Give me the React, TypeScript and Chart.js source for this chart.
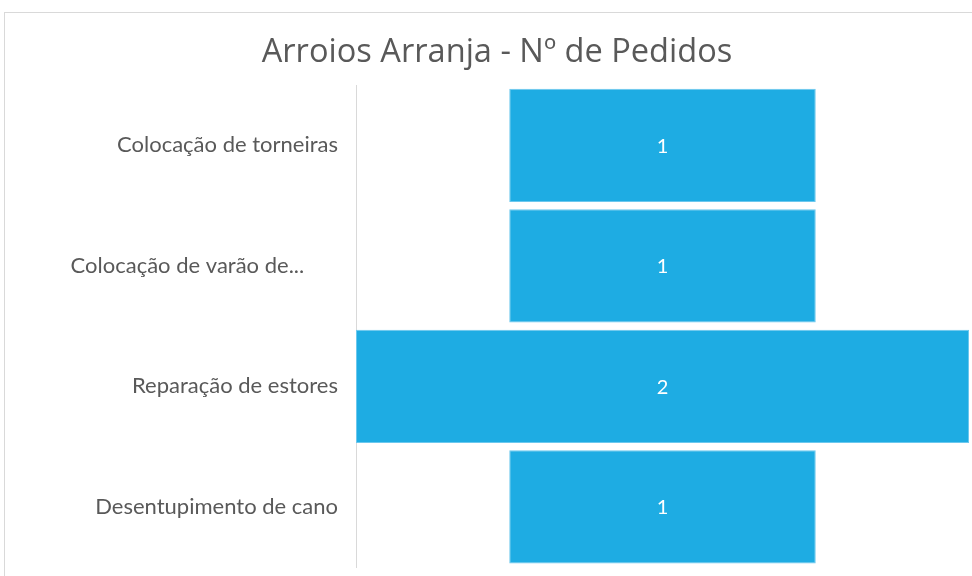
import React, { useEffect, useRef } from "react";
import { Chart, registerables } from "chart.js";

Chart.register(...registerables);

const categories = [
  "Colocação de torneiras",
  "Colocação de varão de...",
  "Reparação de estores",
  "Desentupimento de cano",
];
const pedidos = [1, 1, 2, 1];
const chartTitle = "Arroios Arranja - Nº de Pedidos";

const framePlugin = {
  id: "frame",
  beforeDraw(chart: any) {
    const ctx = chart.ctx;
    ctx.save();
    ctx.strokeStyle = "#d9d9d9";
    ctx.lineWidth = 1;
    ctx.strokeRect(4.5, 12.5, 1200, 1200);
    ctx.restore();
  },
};

const valueLabels = {
  id: "valueLabels",
  afterDatasetsDraw(chart: any) {
    const ctx = chart.ctx;
    const meta = chart.getDatasetMeta(0);
    ctx.save();
    ctx.fillStyle = "#ffffff";
    ctx.font = "20px Lato, 'DejaVu Sans', sans-serif";
    ctx.textAlign = "center";
    ctx.textBaseline = "middle";
    meta.data.forEach((el: any, i: number) => {
      const p = el.getProps(["x", "y", "base"], true);
      const cx = (p.x + p.base) / 2;
      ctx.fillText(String(pedidos[i]), cx, p.y + 1);
    });
    ctx.restore();
  },
};

export default function App() {
  const ref = useRef<HTMLCanvasElement | null>(null);

  useEffect(() => {
    document.body.style.margin = "0";
    document.body.style.overflow = "hidden";
    const maxV = Math.max(...pedidos);
    const chart = new Chart(ref.current as HTMLCanvasElement, {
      type: "bar",
      data: {
        labels: categories,
        datasets: [
          {
            data: pedidos.map((v) => [-v / 2, v / 2]) as any,
            backgroundColor: "#1eace3",
            borderColor: "#6cc8ee",
            borderWidth: 1,
            borderSkipped: false,
            categoryPercentage: 1,
            barPercentage: 0.94,
          },
        ],
      },
      options: {
        indexAxis: "y",
        animation: false,
        responsive: false,
        maintainAspectRatio: false,
        layout: { padding: { left: 25, right: 3, top: 0, bottom: 9 } },
        plugins: {
          legend: { display: false },
          tooltip: { enabled: false },
          title: {
            display: true,
            text: chartTitle,
            color: "#595959",
            font: { family: "'Open Sans', sans-serif", size: 32.6, weight: "normal" },
            padding: { top: 33, bottom: 13 },
          },
        },
        scales: {
          x: {
            display: false,
            min: -maxV / 2,
            max: maxV / 2,
          },
          y: {
            grid: { display: false },
            border: { display: true, color: "#d9d9d9", width: 1 },
            afterFit(scale: any) {
              scale.width = 331;
              scale.paddingTop = 0;
              scale.paddingBottom = 0;
            },
            ticks: {
              color: "#595959",
              padding: 10,
              font: { family: "Lato, 'DejaVu Sans', sans-serif", size: 22 },
              callback: (_v: any, i: number) => {
                const s = categories[i];
                return s.endsWith("...") ? s + "      " : s;
              },
            },
          },
        },
      },
      plugins: [framePlugin, valueLabels],
    });
    return () => chart.destroy();
  }, []);

  return (
    <div style={{ width: 972, height: 576 }}>
      <canvas ref={ref} width={972} height={576} style={{ display: "block" }} />
    </div>
  );
}
